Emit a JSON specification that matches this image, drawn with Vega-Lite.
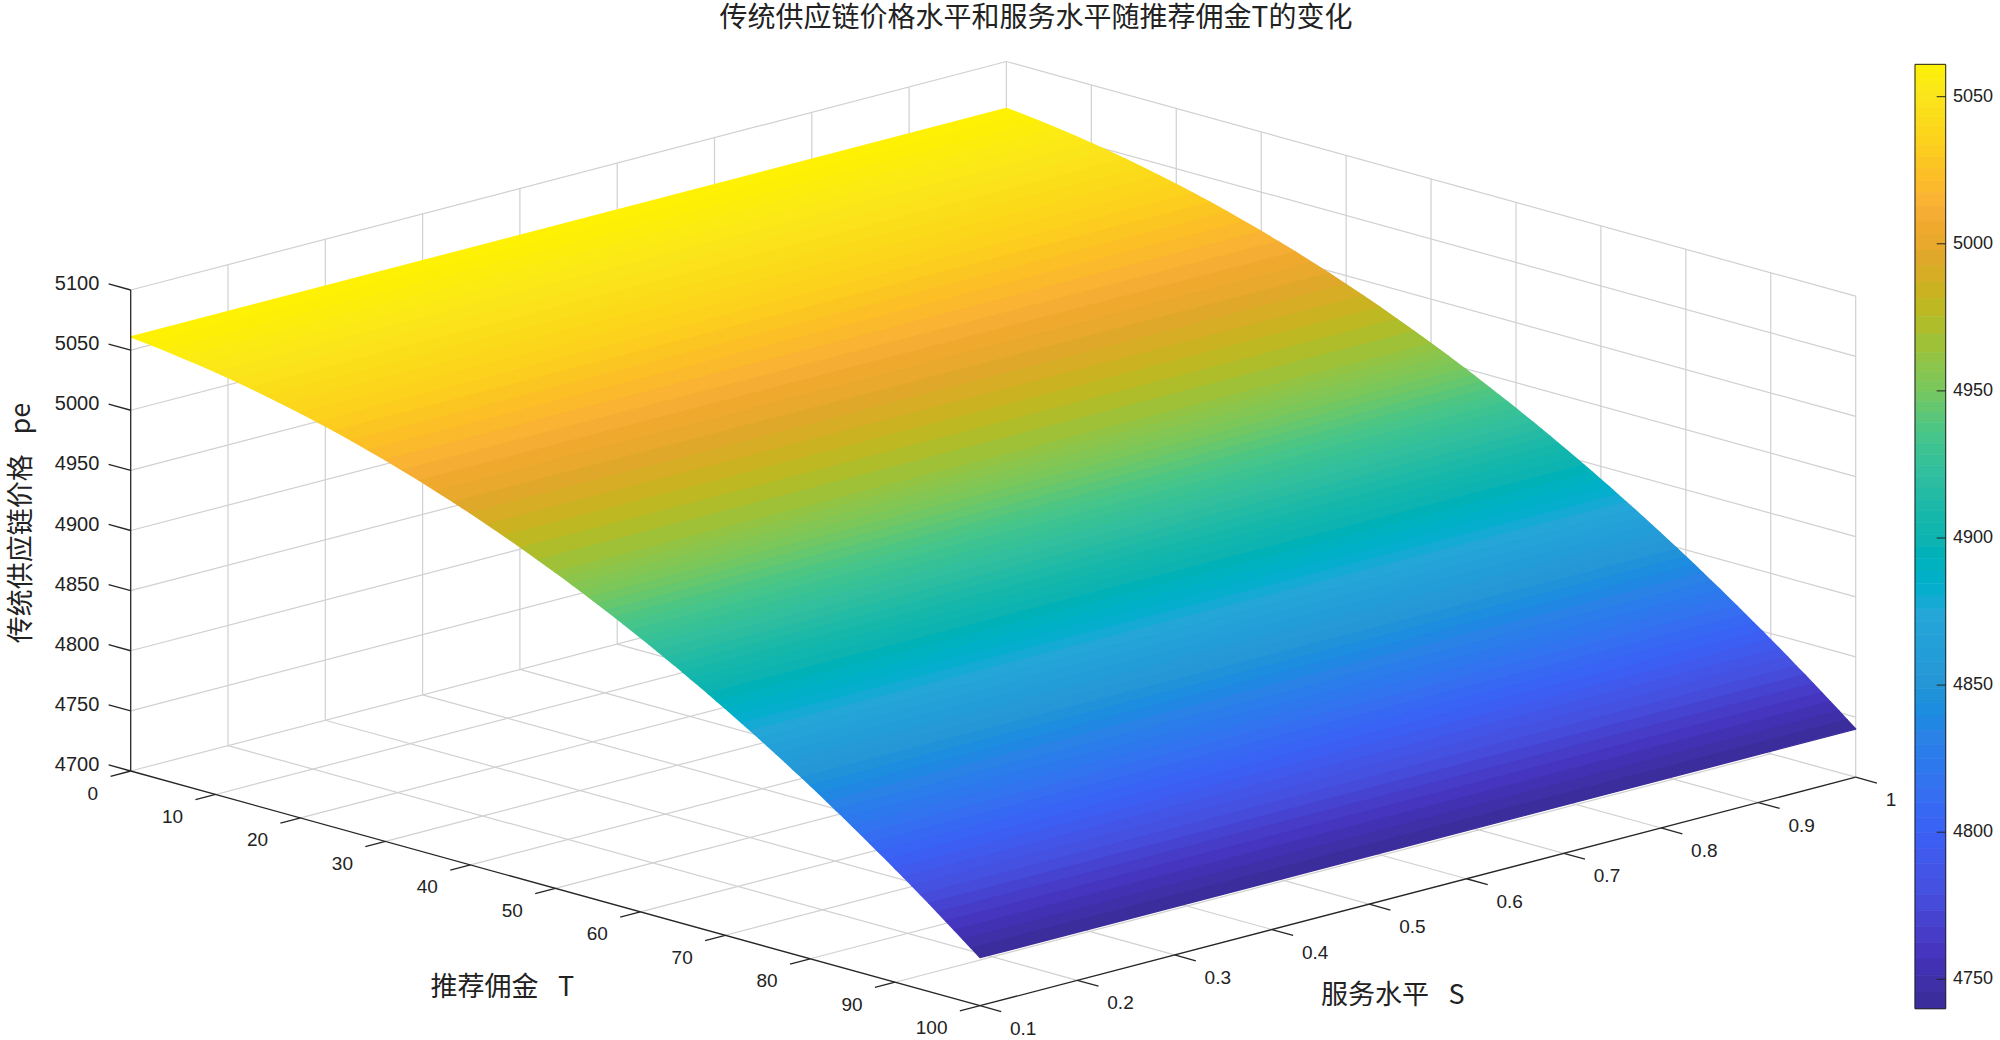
{"$schema":"https://vega.github.io/schema/vega-lite/v6.json","width":2000,"height":1008,"padding":{"left":0,"right":0,"top":32,"bottom":0},"autosize":"none","background":"white","config":{"view":{"stroke":null}},
"title":{"text":"传统供应链价格水平和服务水平随推荐佣金T的变化","font":"Noto Sans CJK SC","fontSize":28,"fontWeight":"normal","color":"#222","anchor":"middle","dx":36,"offset":-1},
"datasets":{
"strips":[
{"c":5060,"T":[0,0,2,2],"S":[0.1,1,1,0.1],"pe":[5061,5061,5059.5,5059.5],"k":[0,1,2,3]},
{"c":5058.7,"T":[2,2,4,4],"S":[0.1,1,1,0.1],"pe":[5059.5,5059.5,5057.8,5057.8],"k":[0,1,2,3]},
{"c":5056.8,"T":[4,4,6,6],"S":[0.1,1,1,0.1],"pe":[5057.8,5057.8,5055.8,5055.8],"k":[0,1,2,3]},
{"c":5054.8,"T":[6,6,8,8],"S":[0.1,1,1,0.1],"pe":[5055.8,5055.8,5053.7,5053.7],"k":[0,1,2,3]},
{"c":5052.5,"T":[8,8,10,10],"S":[0.1,1,1,0.1],"pe":[5053.7,5053.7,5051.4,5051.4],"k":[0,1,2,3]},
{"c":5050.2,"T":[10,10,12,12],"S":[0.1,1,1,0.1],"pe":[5051.4,5051.4,5048.9,5048.9],"k":[0,1,2,3]},
{"c":5047.5,"T":[12,12,14,14],"S":[0.1,1,1,0.1],"pe":[5048.9,5048.9,5046.2,5046.2],"k":[0,1,2,3]},
{"c":5044.7,"T":[14,14,16,16],"S":[0.1,1,1,0.1],"pe":[5046.2,5046.2,5043.2,5043.2],"k":[0,1,2,3]},
{"c":5041.7,"T":[16,16,18,18],"S":[0.1,1,1,0.1],"pe":[5043.2,5043.2,5040.1,5040.1],"k":[0,1,2,3]},
{"c":5038.5,"T":[18,18,20,20],"S":[0.1,1,1,0.1],"pe":[5040.1,5040.1,5036.8,5036.8],"k":[0,1,2,3]},
{"c":5035.1,"T":[20,20,22,22],"S":[0.1,1,1,0.1],"pe":[5036.8,5036.8,5033.3,5033.3],"k":[0,1,2,3]},
{"c":5031.5,"T":[22,22,24,24],"S":[0.1,1,1,0.1],"pe":[5033.3,5033.3,5029.6,5029.6],"k":[0,1,2,3]},
{"c":5027.6,"T":[24,24,26,26],"S":[0.1,1,1,0.1],"pe":[5029.6,5029.6,5025.6,5025.6],"k":[0,1,2,3]},
{"c":5023.6,"T":[26,26,28,28],"S":[0.1,1,1,0.1],"pe":[5025.6,5025.6,5021.5,5021.5],"k":[0,1,2,3]},
{"c":5019.4,"T":[28,28,30,30],"S":[0.1,1,1,0.1],"pe":[5021.5,5021.5,5017.2,5017.2],"k":[0,1,2,3]},
{"c":5015,"T":[30,30,32,32],"S":[0.1,1,1,0.1],"pe":[5017.2,5017.2,5012.7,5012.7],"k":[0,1,2,3]},
{"c":5010.4,"T":[32,32,34,34],"S":[0.1,1,1,0.1],"pe":[5012.7,5012.7,5008,5008],"k":[0,1,2,3]},
{"c":5005.5,"T":[34,34,36,36],"S":[0.1,1,1,0.1],"pe":[5008,5008,5003,5003],"k":[0,1,2,3]},
{"c":5000.5,"T":[36,36,38,38],"S":[0.1,1,1,0.1],"pe":[5003,5003,4997.9,4997.9],"k":[0,1,2,3]},
{"c":4995.3,"T":[38,38,40,40],"S":[0.1,1,1,0.1],"pe":[4997.9,4997.9,4992.6,4992.6],"k":[0,1,2,3]},
{"c":4989.9,"T":[40,40,42,42],"S":[0.1,1,1,0.1],"pe":[4992.6,4992.6,4987.1,4987.1],"k":[0,1,2,3]},
{"c":4984.3,"T":[42,42,44,44],"S":[0.1,1,1,0.1],"pe":[4987.1,4987.1,4981.4,4981.4],"k":[0,1,2,3]},
{"c":4978.4,"T":[44,44,46,46],"S":[0.1,1,1,0.1],"pe":[4981.4,4981.4,4975.4,4975.4],"k":[0,1,2,3]},
{"c":4972.4,"T":[46,46,48,48],"S":[0.1,1,1,0.1],"pe":[4975.4,4975.4,4969.3,4969.3],"k":[0,1,2,3]},
{"c":4966.2,"T":[48,48,50,50],"S":[0.1,1,1,0.1],"pe":[4969.3,4969.3,4963,4963],"k":[0,1,2,3]},
{"c":4961.4,"T":[50,50,51,51],"S":[0.1,1,1,0.1],"pe":[4963,4963,4959.8,4959.8],"k":[0,1,2,3]},
{"c":4958.2,"T":[51,51,52,52],"S":[0.1,1,1,0.1],"pe":[4959.8,4959.8,4956.5,4956.5],"k":[0,1,2,3]},
{"c":4954.8,"T":[52,52,53,53],"S":[0.1,1,1,0.1],"pe":[4956.5,4956.5,4953.1,4953.1],"k":[0,1,2,3]},
{"c":4951.5,"T":[53,53,54,54],"S":[0.1,1,1,0.1],"pe":[4953.1,4953.1,4949.8,4949.8],"k":[0,1,2,3]},
{"c":4948,"T":[54,54,55,55],"S":[0.1,1,1,0.1],"pe":[4949.8,4949.8,4946.3,4946.3],"k":[0,1,2,3]},
{"c":4944.6,"T":[55,55,56,56],"S":[0.1,1,1,0.1],"pe":[4946.3,4946.3,4942.8,4942.8],"k":[0,1,2,3]},
{"c":4941,"T":[56,56,57,57],"S":[0.1,1,1,0.1],"pe":[4942.8,4942.8,4939.3,4939.3],"k":[0,1,2,3]},
{"c":4937.5,"T":[57,57,58,58],"S":[0.1,1,1,0.1],"pe":[4939.3,4939.3,4935.7,4935.7],"k":[0,1,2,3]},
{"c":4933.9,"T":[58,58,59,59],"S":[0.1,1,1,0.1],"pe":[4935.7,4935.7,4932.1,4932.1],"k":[0,1,2,3]},
{"c":4930.2,"T":[59,59,60,60],"S":[0.1,1,1,0.1],"pe":[4932.1,4932.1,4928.4,4928.4],"k":[0,1,2,3]},
{"c":4926.5,"T":[60,60,61,61],"S":[0.1,1,1,0.1],"pe":[4928.4,4928.4,4924.7,4924.7],"k":[0,1,2,3]},
{"c":4922.8,"T":[61,61,62,62],"S":[0.1,1,1,0.1],"pe":[4924.7,4924.7,4920.9,4920.9],"k":[0,1,2,3]},
{"c":4919,"T":[62,62,63,63],"S":[0.1,1,1,0.1],"pe":[4920.9,4920.9,4917,4917],"k":[0,1,2,3]},
{"c":4915.1,"T":[63,63,64,64],"S":[0.1,1,1,0.1],"pe":[4917,4917,4913.2,4913.2],"k":[0,1,2,3]},
{"c":4911.2,"T":[64,64,65,65],"S":[0.1,1,1,0.1],"pe":[4913.2,4913.2,4909.2,4909.2],"k":[0,1,2,3]},
{"c":4907.2,"T":[65,65,66,66],"S":[0.1,1,1,0.1],"pe":[4909.2,4909.2,4905.2,4905.2],"k":[0,1,2,3]},
{"c":4903.2,"T":[66,66,67,67],"S":[0.1,1,1,0.1],"pe":[4905.2,4905.2,4901.2,4901.2],"k":[0,1,2,3]},
{"c":4899.1,"T":[67,67,68,68],"S":[0.1,1,1,0.1],"pe":[4901.2,4901.2,4897.1,4897.1],"k":[0,1,2,3]},
{"c":4895,"T":[68,68,69,69],"S":[0.1,1,1,0.1],"pe":[4897.1,4897.1,4893,4893],"k":[0,1,2,3]},
{"c":4890.9,"T":[69,69,70,70],"S":[0.1,1,1,0.1],"pe":[4893,4893,4888.8,4888.8],"k":[0,1,2,3]},
{"c":4886.7,"T":[70,70,71,71],"S":[0.1,1,1,0.1],"pe":[4888.8,4888.8,4884.6,4884.6],"k":[0,1,2,3]},
{"c":4882.5,"T":[71,71,72,72],"S":[0.1,1,1,0.1],"pe":[4884.6,4884.6,4880.3,4880.3],"k":[0,1,2,3]},
{"c":4878.1,"T":[72,72,73,73],"S":[0.1,1,1,0.1],"pe":[4880.3,4880.3,4875.9,4875.9],"k":[0,1,2,3]},
{"c":4873.8,"T":[73,73,74,74],"S":[0.1,1,1,0.1],"pe":[4875.9,4875.9,4871.6,4871.6],"k":[0,1,2,3]},
{"c":4869.4,"T":[74,74,75,75],"S":[0.1,1,1,0.1],"pe":[4871.6,4871.6,4867.1,4867.1],"k":[0,1,2,3]},
{"c":4864.9,"T":[75,75,76,76],"S":[0.1,1,1,0.1],"pe":[4867.1,4867.1,4862.6,4862.6],"k":[0,1,2,3]},
{"c":4860.4,"T":[76,76,77,77],"S":[0.1,1,1,0.1],"pe":[4862.6,4862.6,4858.1,4858.1],"k":[0,1,2,3]},
{"c":4855.8,"T":[77,77,78,78],"S":[0.1,1,1,0.1],"pe":[4858.1,4858.1,4853.5,4853.5],"k":[0,1,2,3]},
{"c":4851.2,"T":[78,78,79,79],"S":[0.1,1,1,0.1],"pe":[4853.5,4853.5,4848.9,4848.9],"k":[0,1,2,3]},
{"c":4846.6,"T":[79,79,80,80],"S":[0.1,1,1,0.1],"pe":[4848.9,4848.9,4844.2,4844.2],"k":[0,1,2,3]},
{"c":4841.9,"T":[80,80,81,81],"S":[0.1,1,1,0.1],"pe":[4844.2,4844.2,4839.5,4839.5],"k":[0,1,2,3]},
{"c":4837.1,"T":[81,81,82,82],"S":[0.1,1,1,0.1],"pe":[4839.5,4839.5,4834.7,4834.7],"k":[0,1,2,3]},
{"c":4832.3,"T":[82,82,83,83],"S":[0.1,1,1,0.1],"pe":[4834.7,4834.7,4829.8,4829.8],"k":[0,1,2,3]},
{"c":4827.4,"T":[83,83,84,84],"S":[0.1,1,1,0.1],"pe":[4829.8,4829.8,4825,4825],"k":[0,1,2,3]},
{"c":4822.5,"T":[84,84,85,85],"S":[0.1,1,1,0.1],"pe":[4825,4825,4820,4820],"k":[0,1,2,3]},
{"c":4817.5,"T":[85,85,86,86],"S":[0.1,1,1,0.1],"pe":[4820,4820,4815,4815],"k":[0,1,2,3]},
{"c":4812.5,"T":[86,86,87,87],"S":[0.1,1,1,0.1],"pe":[4815,4815,4810,4810],"k":[0,1,2,3]},
{"c":4807.4,"T":[87,87,88,88],"S":[0.1,1,1,0.1],"pe":[4810,4810,4804.9,4804.9],"k":[0,1,2,3]},
{"c":4802.3,"T":[88,88,89,89],"S":[0.1,1,1,0.1],"pe":[4804.9,4804.9,4799.8,4799.8],"k":[0,1,2,3]},
{"c":4797.2,"T":[89,89,90,90],"S":[0.1,1,1,0.1],"pe":[4799.8,4799.8,4794.6,4794.6],"k":[0,1,2,3]},
{"c":4792,"T":[90,90,91,91],"S":[0.1,1,1,0.1],"pe":[4794.6,4794.6,4789.4,4789.4],"k":[0,1,2,3]},
{"c":4786.7,"T":[91,91,92,92],"S":[0.1,1,1,0.1],"pe":[4789.4,4789.4,4784.1,4784.1],"k":[0,1,2,3]},
{"c":4781.4,"T":[92,92,93,93],"S":[0.1,1,1,0.1],"pe":[4784.1,4784.1,4778.7,4778.7],"k":[0,1,2,3]},
{"c":4776,"T":[93,93,94,94],"S":[0.1,1,1,0.1],"pe":[4778.7,4778.7,4773.4,4773.4],"k":[0,1,2,3]},
{"c":4770.6,"T":[94,94,95,95],"S":[0.1,1,1,0.1],"pe":[4773.4,4773.4,4767.9,4767.9],"k":[0,1,2,3]},
{"c":4765.1,"T":[95,95,96,96],"S":[0.1,1,1,0.1],"pe":[4767.9,4767.9,4762.4,4762.4],"k":[0,1,2,3]},
{"c":4759.6,"T":[96,96,97,97],"S":[0.1,1,1,0.1],"pe":[4762.4,4762.4,4756.9,4756.9],"k":[0,1,2,3]},
{"c":4754.1,"T":[97,97,98,98],"S":[0.1,1,1,0.1],"pe":[4756.9,4756.9,4751.3,4751.3],"k":[0,1,2,3]},
{"c":4748.5,"T":[98,98,99,99],"S":[0.1,1,1,0.1],"pe":[4751.3,4751.3,4745.7,4745.7],"k":[0,1,2,3]},
{"c":4742.9,"T":[99,99,100,100],"S":[0.1,1,1,0.1],"pe":[4745.7,4745.7,4740,4740],"k":[0,1,2,3]}
],
"grid":[
{"T1":0,"S1":0.1,"Z1":4700,"T2":0,"S2":1,"Z2":4700},{"T1":10,"S1":0.1,"Z1":4700,"T2":10,"S2":1,"Z2":4700},{"T1":20,"S1":0.1,"Z1":4700,"T2":20,"S2":1,"Z2":4700},{"T1":30,"S1":0.1,"Z1":4700,"T2":30,"S2":1,"Z2":4700},{"T1":40,"S1":0.1,"Z1":4700,"T2":40,"S2":1,"Z2":4700},{"T1":50,"S1":0.1,"Z1":4700,"T2":50,"S2":1,"Z2":4700},{"T1":60,"S1":0.1,"Z1":4700,"T2":60,"S2":1,"Z2":4700},{"T1":70,"S1":0.1,"Z1":4700,"T2":70,"S2":1,"Z2":4700},{"T1":80,"S1":0.1,"Z1":4700,"T2":80,"S2":1,"Z2":4700},{"T1":90,"S1":0.1,"Z1":4700,"T2":90,"S2":1,"Z2":4700},
{"T1":0,"S1":0.2,"Z1":4700,"T2":100,"S2":0.2,"Z2":4700},{"T1":0,"S1":0.3,"Z1":4700,"T2":100,"S2":0.3,"Z2":4700},{"T1":0,"S1":0.4,"Z1":4700,"T2":100,"S2":0.4,"Z2":4700},{"T1":0,"S1":0.5,"Z1":4700,"T2":100,"S2":0.5,"Z2":4700},{"T1":0,"S1":0.6,"Z1":4700,"T2":100,"S2":0.6,"Z2":4700},{"T1":0,"S1":0.7,"Z1":4700,"T2":100,"S2":0.7,"Z2":4700},{"T1":0,"S1":0.8,"Z1":4700,"T2":100,"S2":0.8,"Z2":4700},{"T1":0,"S1":0.9,"Z1":4700,"T2":100,"S2":0.9,"Z2":4700},{"T1":0,"S1":1,"Z1":4700,"T2":100,"S2":1,"Z2":4700},
{"T1":0,"S1":1,"Z1":4700,"T2":0,"S2":1,"Z2":5100},{"T1":10,"S1":1,"Z1":4700,"T2":10,"S2":1,"Z2":5100},{"T1":20,"S1":1,"Z1":4700,"T2":20,"S2":1,"Z2":5100},{"T1":30,"S1":1,"Z1":4700,"T2":30,"S2":1,"Z2":5100},{"T1":40,"S1":1,"Z1":4700,"T2":40,"S2":1,"Z2":5100},{"T1":50,"S1":1,"Z1":4700,"T2":50,"S2":1,"Z2":5100},{"T1":60,"S1":1,"Z1":4700,"T2":60,"S2":1,"Z2":5100},{"T1":70,"S1":1,"Z1":4700,"T2":70,"S2":1,"Z2":5100},{"T1":80,"S1":1,"Z1":4700,"T2":80,"S2":1,"Z2":5100},{"T1":90,"S1":1,"Z1":4700,"T2":90,"S2":1,"Z2":5100},{"T1":100,"S1":1,"Z1":4700,"T2":100,"S2":1,"Z2":5100},
{"T1":0,"S1":1,"Z1":4750,"T2":100,"S2":1,"Z2":4750},{"T1":0,"S1":1,"Z1":4800,"T2":100,"S2":1,"Z2":4800},{"T1":0,"S1":1,"Z1":4850,"T2":100,"S2":1,"Z2":4850},{"T1":0,"S1":1,"Z1":4900,"T2":100,"S2":1,"Z2":4900},{"T1":0,"S1":1,"Z1":4950,"T2":100,"S2":1,"Z2":4950},{"T1":0,"S1":1,"Z1":5000,"T2":100,"S2":1,"Z2":5000},{"T1":0,"S1":1,"Z1":5050,"T2":100,"S2":1,"Z2":5050},{"T1":0,"S1":1,"Z1":5100,"T2":100,"S2":1,"Z2":5100},
{"T1":0,"S1":0.2,"Z1":4700,"T2":0,"S2":0.2,"Z2":5100},{"T1":0,"S1":0.3,"Z1":4700,"T2":0,"S2":0.3,"Z2":5100},{"T1":0,"S1":0.4,"Z1":4700,"T2":0,"S2":0.4,"Z2":5100},{"T1":0,"S1":0.5,"Z1":4700,"T2":0,"S2":0.5,"Z2":5100},{"T1":0,"S1":0.6,"Z1":4700,"T2":0,"S2":0.6,"Z2":5100},{"T1":0,"S1":0.7,"Z1":4700,"T2":0,"S2":0.7,"Z2":5100},{"T1":0,"S1":0.8,"Z1":4700,"T2":0,"S2":0.8,"Z2":5100},{"T1":0,"S1":0.9,"Z1":4700,"T2":0,"S2":0.9,"Z2":5100},
{"T1":0,"S1":0.1,"Z1":4750,"T2":0,"S2":1,"Z2":4750},{"T1":0,"S1":0.1,"Z1":4800,"T2":0,"S2":1,"Z2":4800},{"T1":0,"S1":0.1,"Z1":4850,"T2":0,"S2":1,"Z2":4850},{"T1":0,"S1":0.1,"Z1":4900,"T2":0,"S2":1,"Z2":4900},{"T1":0,"S1":0.1,"Z1":4950,"T2":0,"S2":1,"Z2":4950},{"T1":0,"S1":0.1,"Z1":5000,"T2":0,"S2":1,"Z2":5000},{"T1":0,"S1":0.1,"Z1":5050,"T2":0,"S2":1,"Z2":5050},{"T1":0,"S1":0.1,"Z1":5100,"T2":0,"S2":1,"Z2":5100}
],
"axes":[
{"T1":0,"S1":0.1,"Z1":4700,"T2":100,"S2":0.1,"Z2":4700},{"T1":100,"S1":0.1,"Z1":4700,"T2":100,"S2":1,"Z2":4700},{"T1":0,"S1":0.1,"Z1":4700,"T2":0,"S2":0.1,"Z2":5100},
{"T1":0,"S1":0.1,"Z1":4700,"T2":0,"S2":0.0793,"Z2":4700},{"T1":10,"S1":0.1,"Z1":4700,"T2":10,"S2":0.0793,"Z2":4700},{"T1":20,"S1":0.1,"Z1":4700,"T2":20,"S2":0.0793,"Z2":4700},{"T1":30,"S1":0.1,"Z1":4700,"T2":30,"S2":0.0793,"Z2":4700},{"T1":40,"S1":0.1,"Z1":4700,"T2":40,"S2":0.0793,"Z2":4700},{"T1":50,"S1":0.1,"Z1":4700,"T2":50,"S2":0.0793,"Z2":4700},{"T1":60,"S1":0.1,"Z1":4700,"T2":60,"S2":0.0793,"Z2":4700},{"T1":70,"S1":0.1,"Z1":4700,"T2":70,"S2":0.0793,"Z2":4700},{"T1":80,"S1":0.1,"Z1":4700,"T2":80,"S2":0.0793,"Z2":4700},{"T1":90,"S1":0.1,"Z1":4700,"T2":90,"S2":0.0793,"Z2":4700},{"T1":100,"S1":0.1,"Z1":4700,"T2":100,"S2":0.0793,"Z2":4700},
{"T1":100,"S1":0.1,"Z1":4700,"T2":102.5,"S2":0.1,"Z2":4700},{"T1":100,"S1":0.2,"Z1":4700,"T2":102.5,"S2":0.2,"Z2":4700},{"T1":100,"S1":0.3,"Z1":4700,"T2":102.5,"S2":0.3,"Z2":4700},{"T1":100,"S1":0.4,"Z1":4700,"T2":102.5,"S2":0.4,"Z2":4700},{"T1":100,"S1":0.5,"Z1":4700,"T2":102.5,"S2":0.5,"Z2":4700},{"T1":100,"S1":0.6,"Z1":4700,"T2":102.5,"S2":0.6,"Z2":4700},{"T1":100,"S1":0.7,"Z1":4700,"T2":102.5,"S2":0.7,"Z2":4700},{"T1":100,"S1":0.8,"Z1":4700,"T2":102.5,"S2":0.8,"Z2":4700},{"T1":100,"S1":0.9,"Z1":4700,"T2":102.5,"S2":0.9,"Z2":4700},{"T1":100,"S1":1,"Z1":4700,"T2":102.5,"S2":1,"Z2":4700},
{"T1":0,"S1":0.1,"Z1":4700,"T2":-2.6,"S2":0.1,"Z2":4700},{"T1":0,"S1":0.1,"Z1":4750,"T2":-2.6,"S2":0.1,"Z2":4750},{"T1":0,"S1":0.1,"Z1":4800,"T2":-2.6,"S2":0.1,"Z2":4800},{"T1":0,"S1":0.1,"Z1":4850,"T2":-2.6,"S2":0.1,"Z2":4850},{"T1":0,"S1":0.1,"Z1":4900,"T2":-2.6,"S2":0.1,"Z2":4900},{"T1":0,"S1":0.1,"Z1":4950,"T2":-2.6,"S2":0.1,"Z2":4950},{"T1":0,"S1":0.1,"Z1":5000,"T2":-2.6,"S2":0.1,"Z2":5000},{"T1":0,"S1":0.1,"Z1":5050,"T2":-2.6,"S2":0.1,"Z2":5050},{"T1":0,"S1":0.1,"Z1":5100,"T2":-2.6,"S2":0.1,"Z2":5100}
],
"tlabels":[{"T":0,"S":0.1,"Z":4700,"t":"0"},{"T":10,"S":0.1,"Z":4700,"t":"10"},{"T":20,"S":0.1,"Z":4700,"t":"20"},{"T":30,"S":0.1,"Z":4700,"t":"30"},{"T":40,"S":0.1,"Z":4700,"t":"40"},{"T":50,"S":0.1,"Z":4700,"t":"50"},{"T":60,"S":0.1,"Z":4700,"t":"60"},{"T":70,"S":0.1,"Z":4700,"t":"70"},{"T":80,"S":0.1,"Z":4700,"t":"80"},{"T":90,"S":0.1,"Z":4700,"t":"90"},{"T":100,"S":0.1,"Z":4700,"t":"100"}],
"slabels":[{"T":100,"S":0.1,"Z":4700,"t":"0.1"},{"T":100,"S":0.2,"Z":4700,"t":"0.2"},{"T":100,"S":0.3,"Z":4700,"t":"0.3"},{"T":100,"S":0.4,"Z":4700,"t":"0.4"},{"T":100,"S":0.5,"Z":4700,"t":"0.5"},{"T":100,"S":0.6,"Z":4700,"t":"0.6"},{"T":100,"S":0.7,"Z":4700,"t":"0.7"},{"T":100,"S":0.8,"Z":4700,"t":"0.8"},{"T":100,"S":0.9,"Z":4700,"t":"0.9"},{"T":100,"S":1,"Z":4700,"t":"1"}],
"zlabels":[{"T":0,"S":0.1,"Z":4700,"t":"4700"},{"T":0,"S":0.1,"Z":4750,"t":"4750"},{"T":0,"S":0.1,"Z":4800,"t":"4800"},{"T":0,"S":0.1,"Z":4850,"t":"4850"},{"T":0,"S":0.1,"Z":4900,"t":"4900"},{"T":0,"S":0.1,"Z":4950,"t":"4950"},{"T":0,"S":0.1,"Z":5000,"t":"5000"},{"T":0,"S":0.1,"Z":5050,"t":"5050"},{"T":0,"S":0.1,"Z":5100,"t":"5100"}],
"cbticks":[{"v":4750,"t":"4750"},{"v":4800,"t":"4800"},{"v":4850,"t":"4850"},{"v":4900,"t":"4900"},{"v":4950,"t":"4950"},{"v":5000,"t":"5000"},{"v":5050,"t":"5050"}]
},
"encoding":{"x":{"field":"px","type":"quantitative","axis":null,"scale":{"domain":[0,2000],"nice":false,"zero":false}},"y":{"field":"py","type":"quantitative","axis":null,"scale":{"domain":[1040,32],"nice":false,"zero":false}}},
"layer":[
{"data":{"name":"grid"},"transform":[{"calculate":"130.7+8.493*datum.T1+973*(datum.S1-0.1)","as":"px"},{"calculate":"771+2.347*datum.T1-253.9*(datum.S1-0.1)-1.2025*(datum.Z1-4700)","as":"py"},{"calculate":"130.7+8.493*datum.T2+973*(datum.S2-0.1)","as":"qx"},{"calculate":"771+2.347*datum.T2-253.9*(datum.S2-0.1)-1.2025*(datum.Z2-4700)","as":"qy"}],
"mark":{"type":"rule","color":"#d0d0d0","strokeWidth":1.2},"encoding":{"x2":{"field":"qx"},"y2":{"field":"qy"}}},
{"data":{"name":"strips"},"transform":[{"flatten":["T","S","pe","k"]},{"calculate":"130.7+8.493*datum.T+973*(datum.S-0.1)","as":"px"},{"calculate":"771+2.347*datum.T-253.9*(datum.S-0.1)-1.2025*(datum.pe-4700)","as":"py"}],
"mark":{"type":"line","filled":true,"interpolate":"linear-closed","strokeWidth":1.4,"strokeJoin":"round"},
"encoding":{"order":{"field":"k","type":"quantitative"},
"fill":{"field":"c","type":"quantitative","legend":null,"scale":{"type":"linear","domain":[4740,4760,4780,4800,4815,4833,4850,4874,4885,4898,4921,4935,4950,4970,4982,4995,5005,5013,5024,5036,5050,5061],"range":["#3a2c96","#4535c0","#4650e0","#3a60f5","#3670f0","#2a82e6","#2796d6","#24a6d8","#07b0ca","#0cb2b2","#30be9f","#47c58a","#77c75e","#a9bf2f","#c6b420","#e0a82a","#eeaa2e","#f9b035","#fcc025","#fcd31c","#fae51a","#fff200"]}},
"stroke":{"field":"c","type":"quantitative","legend":null,"scale":{"type":"linear","domain":[4740,4760,4780,4800,4815,4833,4850,4874,4885,4898,4921,4935,4950,4970,4982,4995,5005,5013,5024,5036,5050,5061],"range":["#3a2c96","#4535c0","#4650e0","#3a60f5","#3670f0","#2a82e6","#2796d6","#24a6d8","#07b0ca","#0cb2b2","#30be9f","#47c58a","#77c75e","#a9bf2f","#c6b420","#e0a82a","#eeaa2e","#f9b035","#fcc025","#fcd31c","#fae51a","#fff200"]}}}},
{"data":{"name":"axes"},"transform":[{"calculate":"130.7+8.493*datum.T1+973*(datum.S1-0.1)","as":"px"},{"calculate":"771+2.347*datum.T1-253.9*(datum.S1-0.1)-1.2025*(datum.Z1-4700)","as":"py"},{"calculate":"130.7+8.493*datum.T2+973*(datum.S2-0.1)","as":"qx"},{"calculate":"771+2.347*datum.T2-253.9*(datum.S2-0.1)-1.2025*(datum.Z2-4700)","as":"qy"}],
"mark":{"type":"rule","color":"#262626","strokeWidth":1.3},"encoding":{"x2":{"field":"qx"},"y2":{"field":"qy"}}},
{"data":{"name":"tlabels"},"transform":[{"calculate":"130.7+8.493*datum.T+973*(datum.S-0.1)","as":"px"},{"calculate":"771+2.347*datum.T-253.9*(datum.S-0.1)-1.2025*(datum.Z-4700)","as":"py"}],
"mark":{"type":"text","font":"Liberation Sans","fontSize":19,"color":"#222","align":"right","baseline":"middle","dx":-32.5,"dy":22.5},"encoding":{"text":{"field":"t"}}},
{"data":{"name":"slabels"},"transform":[{"calculate":"130.7+8.493*datum.T+973*(datum.S-0.1)","as":"px"},{"calculate":"771+2.347*datum.T-253.9*(datum.S-0.1)-1.2025*(datum.Z-4700)","as":"py"}],
"mark":{"type":"text","font":"Liberation Sans","fontSize":19,"color":"#222","align":"left","baseline":"middle","dx":30,"dy":23},"encoding":{"text":{"field":"t"}}},
{"data":{"name":"zlabels"},"transform":[{"calculate":"130.7+8.493*datum.T+973*(datum.S-0.1)","as":"px"},{"calculate":"771+2.347*datum.T-253.9*(datum.S-0.1)-1.2025*(datum.Z-4700)","as":"py"}],
"mark":{"type":"text","font":"Liberation Sans","fontSize":20,"color":"#222","align":"right","baseline":"middle","dx":-31.4,"dy":-6},"encoding":{"text":{"field":"t"}}},
{"data":{"values":[{"T":50,"S":0.1,"Z":4700,"t":"推荐佣金\u2002 T"}]},"transform":[{"calculate":"130.7+8.493*datum.T+973*(datum.S-0.1)","as":"px"},{"calculate":"771+2.347*datum.T-253.9*(datum.S-0.1)-1.2025*(datum.Z-4700)","as":"py"}],
"mark":{"type":"text","font":"Noto Sans CJK SC","fontSize":27,"color":"#222","align":"center","baseline":"middle","dx":-53,"dy":100},"encoding":{"text":{"field":"t"}}},
{"data":{"values":[{"T":100,"S":0.55,"Z":4700,"t":"服务水平\u2002 S"}]},"transform":[{"calculate":"130.7+8.493*datum.T+973*(datum.S-0.1)","as":"px"},{"calculate":"771+2.347*datum.T-253.9*(datum.S-0.1)-1.2025*(datum.Z-4700)","as":"py"}],
"mark":{"type":"text","font":"Noto Sans CJK SC","fontSize":27,"color":"#222","align":"center","baseline":"middle","dx":-25,"dy":105},"encoding":{"text":{"field":"t"}}},
{"data":{"values":[{"T":0,"S":0.1,"Z":4900,"t":"传统供应链价格\u2002 pe"}]},"transform":[{"calculate":"130.7+8.493*datum.T+973*(datum.S-0.1)","as":"px"},{"calculate":"771+2.347*datum.T-253.9*(datum.S-0.1)-1.2025*(datum.Z-4700)","as":"py"}],
"mark":{"type":"text","font":"Noto Sans CJK SC","fontSize":27,"color":"#222","align":"center","baseline":"middle","angle":270,"dx":7.5,"dy":-108.7},"encoding":{"text":{"field":"t"}}},
{"data":{"name":"strips"},"transform":[{"calculate":"1915","as":"px"},{"calculate":"1945.7","as":"qx"},{"calculate":"979.3-(datum.pe[0]-4750)*2.942","as":"py"},{"calculate":"979.3-(datum.pe[2]-4750)*2.942","as":"qy"}],
"mark":{"type":"rect","strokeWidth":0.6},"encoding":{"x2":{"field":"qx"},"y2":{"field":"qy"},"fill":{"field":"c","type":"quantitative","legend":null},"stroke":{"field":"c","type":"quantitative","legend":null}}},
{"data":{"values":[{"a":4740,"b":5061}]},"transform":[{"calculate":"1915","as":"px"},{"calculate":"1945.7","as":"qx"},{"calculate":"979.3-(datum.b-4750)*2.942","as":"py"},{"calculate":"979.3-(datum.a-4750)*2.942","as":"qy"}],
"mark":{"type":"rect","fillOpacity":0,"stroke":"#222","strokeWidth":1},"encoding":{"x2":{"field":"qx"},"y2":{"field":"qy"}}},
{"data":{"name":"cbticks"},"transform":[{"calculate":"1936.7","as":"px"},{"calculate":"1945.7","as":"qx"},{"calculate":"979.3-(datum.v-4750)*2.942","as":"py"}],
"mark":{"type":"rule","color":"#222","strokeWidth":1},"encoding":{"x2":{"field":"qx"}}},
{"data":{"name":"cbticks"},"transform":[{"calculate":"1953","as":"px"},{"calculate":"979.3-(datum.v-4750)*2.942","as":"py"}],
"mark":{"type":"text","font":"Liberation Sans","fontSize":18,"color":"#222","align":"left","baseline":"middle"},"encoding":{"text":{"field":"t"}}}
]}
